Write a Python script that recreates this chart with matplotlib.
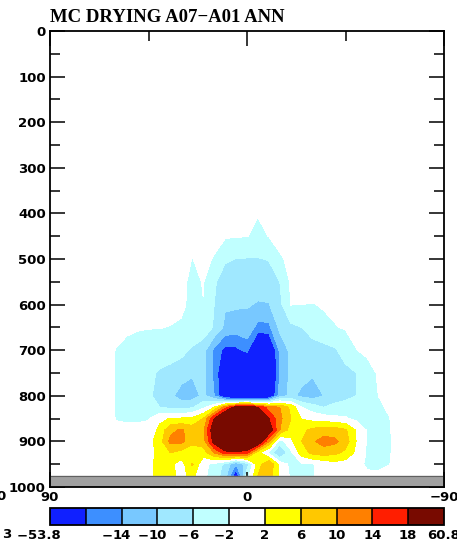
import numpy as np
import matplotlib
matplotlib.use('Agg')
from matplotlib import pyplot as plt
from matplotlib.colors import ListedColormap, BoundaryNorm
import matplotlib.colorbar as mcolorbar

# latitude columns (N -> S) and pressure rows (hPa)
lats = [65, 60, 55, 50, 45, 40, 35, 30, 25, 20, 15, 10, 5, 0,
        -5, -10, -15, -20, -25, -30, -35, -40, -45, -50, -55, -60, -65, -70]
levels = [350, 400, 450, 500, 550, 600, 650, 700, 750, 800,
          825, 850, 875, 900, 925, 950, 975]

# MC drying difference, one row per pressure level
r350 = [0]*28
r400 = [0,0,0,0,0,0,0,0,0,0,0,0,-0.5,-1.0,-1.8,-0.5,0,0,0,0,0,0,0,0,0,0,0,0]
r450 = [0,0,0,0,0,0,0,0,0,0,-0.8,-1.6,-1.8,-1.9,-3.0,-1.9,-0.5,0,0,0,0,0,0,0,0,0,0,0]
r500 = [0,0,0,0,0,0,0,-0.5,-2.1,-1.0,-2.3,-5.5,-6.1,-6.2,-6.2,-5.8,-2.6,-1.0,-0.5,0,0,0,0,0,0,0,0,0]
r550 = [0,0,0,0,0,-0.5,-0.8,-1.0,-3.0,-1.8,-5.5,-8.0,-8.5,-9.0,-9.0,-8.0,-6.0,-1.5,-1.0,-0.8,-0.5,0,0,0,0,0,0,0]
r600 = [0,0,-0.3,-0.6,-0.8,-0.9,-1.1,-1.3,-3.0,-2.1,-6.0,-9.5,-9.5,-9.8,-10.2,-10.2,-7.0,-1.9,-2.0,-2.1,-1.8,-1.3,-0.8,-0.3,0,0,0,0]
r650 = [0,-1.0,-1.5,-1.8,-1.9,-1.9,-2.1,-2.5,-3.5,-3.5,-6.5,-11.0,-12.0,-11.0,-15.5,-15.0,-9.0,-7.0,-6.0,-4.0,-2.6,-2.2,-1.7,-1.0,-0.5,0,0,0]
r700 = [-0.5,-2.1,-2.8,-3.0,-3.2,-3.8,-4.5,-5.0,-6.5,-8.5,-15.0,-19.5,-19.0,-17.0,-28.0,-26.0,-13.0,-9.0,-8.0,-8.0,-7.5,-6.5,-4.5,-2.1,-1.2,-0.5,0,0]
r750 = [-0.5,-2.2,-3.5,-4.0,-5.0,-6.5,-7.0,-8.0,-9.5,-9.0,-15.0,-24.0,-28.0,-28.0,-30.0,-28.0,-14.0,-9.0,-8.5,-9.5,-8.0,-7.5,-7.0,-6.0,-3.5,-1.6,-0.5,0]
r800 = [-0.5,-2.2,-4.0,-5.0,-5.5,-7.0,-9.0,-12.0,-12.0,-9.0,-14.0,-24.0,-30.0,-30.0,-30.0,-25.0,-12.0,-9.0,-11.0,-12.0,-10.0,-8.0,-7.0,-6.0,-5.0,-2.0,-1.3,-0.3]
r825 = [-0.5,-2.2,-3.5,-4.0,-4.5,-6.0,-7.0,-7.5,-6.5,-3.0,2.0,12.0,20.0,22.0,18.0,12.0,10.0,5.0,-2.0,-4.0,-6.0,-5.0,-4.5,-4.0,-3.5,-2.5,-1.6,-0.5]
r850 = [-0.3,-2.1,-2.3,-2.3,-2.2,1.0,2.2,2.5,3.0,6.0,18.0,28.0,30.0,30.0,28.0,18.0,11.0,6.0,1.8,0.5,0,-1.0,-1.5,-3.0,-3.5,-3.0,-2.1,-0.5]
r875 = [0,-1.5,-1.5,-1.5,-1.0,3.0,9.0,10.5,8.0,9.0,22.0,30.0,32.0,32.0,28.0,22.0,10.0,4.0,5.0,7.0,8.0,8.0,6.5,1.5,-2.5,-3.0,-2.2,-0.5]
r900 = [0,0,-0.5,0,0.5,4.0,11.0,11.0,8.0,8.0,20.0,28.0,30.0,28.0,24.0,10.0,-4.0,1.0,6.0,9.5,11.5,11.0,8.0,1.8,-2.5,-3.0,-2.5,-0.5]
r925 = [0,0,0,0,0.5,3.0,6.0,4.5,1.5,4.0,10.0,16.0,17.0,15.0,3.0,-3.0,-11.0,-3.0,4.0,7.0,8.0,7.0,5.0,1.0,-2.5,-3.0,-2.3,-0.5]
r950 = [0,0,0,0,0.5,4.0,3.0,0,6.5,-1.0,-3.0,-7.0,-14.0,-8.0,4.0,10.0,0.5,-3.0,-2.5,-2.2,-1.0,0.5,0,-1.0,-2.5,-2.6,-2.1,-0.5]
r975 = [0,0,0,0,0.5,4.0,3.0,1.0,3.0,-1.0,-4.0,-8.0,-22.0,-4.0,6.0,8.0,1.0,-2.5,-2.5,-2.2,-1.0,0,0,-0.5,-1.5,-1.5,-1.0,0]

# contour levels and colours
bounds = [-53.8, -18, -14, -10, -6, -2, 2, 6, 10, 14, 18, 60.8]
bar_labels = [-53.8, -14, -10, -6, -2, 2, 6, 10, 14, 18, 60.8]
colors = ['#1020ff', '#3d8fff', '#78c8ff', '#a0e8ff', '#c0ffff', '#ffffff',
          '#ffff00', '#ffc800', '#ff8000', '#ff1e00', '#780a00']

field = np.array([r350, r400, r450, r500, r550, r600, r650, r700, r750,
                  r800, r825, r850, r875, r900, r925, r950, r975])

cmap = ListedColormap(colors)
norm = BoundaryNorm(bounds, cmap.N)

fig = plt.figure(figsize=(4.57, 5.42), dpi=100)
ax = fig.add_axes([50/457, 1-487/542, 394/457, 456/542])

ax.contourf(lats, levels, field, levels=bounds, cmap=cmap, norm=norm)
# topography band
ax.axhspan(975, 1000, color='#a0a0a0', zorder=3)
ax.axhline(975, color='#606060', lw=0.8, zorder=3)

ax.set_xlim(90, -90)
ax.set_ylim(1000, 0)
ax.set_xticks([90, 0, -90])
ax.set_xticklabels(['90', '0', '\u221290'])
ax.set_xticks([45, -45], minor=True)
ax.set_yticks(np.arange(0, 1001, 100))
ax.set_yticks(np.arange(50, 1000, 100), minor=True)
ax.tick_params(which='both', direction='in', top=True, right=True, width=1.1,
               labelsize=9.5, pad=3, zorder=5)
ax.tick_params(which='major', length=11)
ax.tick_params(which='minor', length=7.5)
for lab in ax.get_xticklabels() + ax.get_yticklabels():
    lab.set_fontweight('bold')
for s in ax.spines.values():
    s.set_linewidth(1.3)
    s.set_zorder(6)

ax.text(0.0, 1.01, 'MC DRYING A07\u2212A01 ANN', transform=ax.transAxes,
        family='Liberation Serif', fontweight='bold', fontsize=13.5,
        ha='left', va='bottom')

# clipped stray labels at the left edge
fig.text(6/457, 1-497/542, '0', fontsize=9.5, fontweight='bold',
         ha='right', va='center')

# label bar
cax = fig.add_axes([50/457, 1-525/542, 394/457, 17/542])
cb = mcolorbar.ColorbarBase(cax, cmap=cmap, norm=norm, boundaries=bounds,
                            spacing='uniform', orientation='horizontal',
                            drawedges=True)
cb.outline.set_linewidth(1.3)
cb.dividers.set_linewidth(1.1)
cb.set_ticks([])
cax.minorticks_off()
cax.tick_params(which='both', length=0, labelbottom=False)

# labels: digits centred on the boundary, minus sign hanging to the left
ncol = len(colors)
for v in bar_labels:
    xf = bounds.index(v) / ncol
    digits = '%g' % abs(v)
    shift = -6 if v == bounds[0] else 0
    cax.annotate(digits, xy=(xf, -0.25), xycoords='axes fraction',
                 xytext=(shift, 0), textcoords='offset pixels',
                 ha='center', va='top', fontsize=9.5, fontweight='bold')
    if v < 0:
        off = len(digits.replace('.', '')) * 4.6 + digits.count('.') * 2.2
        cax.annotate('\u2212', xy=(xf, -0.25), xycoords='axes fraction',
                     xytext=(shift - off, 0), textcoords='offset pixels',
                     ha='right', va='top', fontsize=9.5, fontweight='bold')
fig.text(11/457, 1-535/542, '3', fontsize=9.5, fontweight='bold',
         ha='right', va='center')

fig.savefig('out.png', dpi=100)
